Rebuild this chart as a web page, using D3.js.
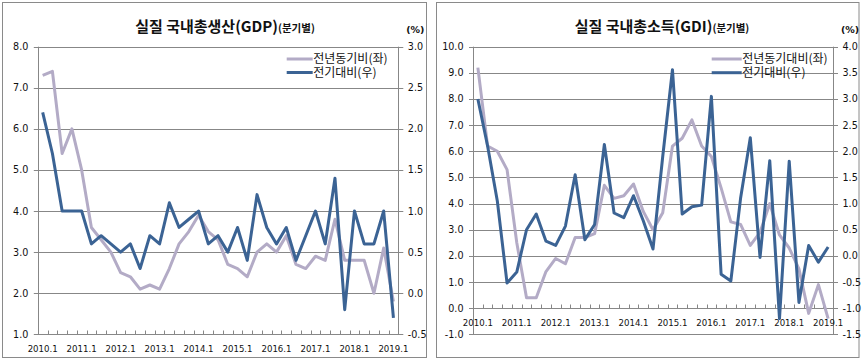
<!DOCTYPE html>
<html><head><meta charset="utf-8">
<script src="https://cdn.jsdelivr.net/npm/d3@7"></script>
<style>body{margin:0;background:#fff}svg{display:block}</style>
</head><body>
<svg id="c" width="868" height="360"></svg>
<script>
const categories = ["2010.1","2010.2","2010.3","2010.4","2011.1","2011.2","2011.3","2011.4",
  "2012.1","2012.2","2012.3","2012.4","2013.1","2013.2","2013.3","2013.4",
  "2014.1","2014.2","2014.3","2014.4","2015.1","2015.2","2015.3","2015.4",
  "2016.1","2016.2","2016.3","2016.4","2017.1","2017.2","2017.3","2017.4",
  "2018.1","2018.2","2018.3","2018.4","2019.1"];
const tickLabels = ["2010.1","2011.1","2012.1","2013.1","2014.1","2015.1","2016.1","2017.1","2018.1","2019.1"];
const seriesNames = ["전년동기비(좌)", "전기대비(우)"];
const gdiSeriesNames = ["전년동기대비(좌)", "전기대비(우)"];

// 실질 GDP
const gdpYoY = [7.3,7.4,5.4,6.0,5.0,3.6,3.3,3.0,2.5,2.4,2.1,2.2,2.1,2.6,3.2,3.5,3.9,3.5,3.3,2.7,
  2.6,2.4,3.0,3.2,3.0,3.4,2.7,2.6,2.9,2.8,3.8,2.8,2.8,2.8,2.0,3.1,1.8];
const gdpQoQ = [2.2,1.7,1.0,1.0,1.0,0.6,0.7,0.6,0.5,0.6,0.3,0.7,0.6,1.1,0.8,0.9,1.0,0.6,0.7,0.5,
  0.8,0.4,1.2,0.8,0.6,0.8,0.4,0.7,1.0,0.6,1.4,-0.2,1.0,0.6,0.6,1.0,-0.3];
const gdpLeftTicks = [1,2,3,4,5,6,7,8];
const gdpRightTicks = [-0.5,0,0.5,1,1.5,2,2.5,3];

// 실질 GDI
const gdiYoY = [9.2,6.2,6.0,5.3,2.5,0.4,0.4,1.4,1.9,1.7,2.7,2.7,2.85,4.7,4.2,4.3,4.75,3.7,3.0,3.65,
  6.2,6.5,7.2,6.2,5.8,4.6,3.3,3.2,2.4,2.9,4.0,2.8,2.3,1.5,-0.2,0.9,-0.4];
const gdiQoQ = [3.0,2.1,1.05,-0.52,-0.31,0.5,0.8,0.28,0.2,0.57,1.55,0.31,0.6,2.13,0.82,0.73,1.15,0.67,0.13,1.9,
  3.56,0.8,0.94,0.97,3.05,-0.35,-0.48,1.1,2.26,-0.03,1.82,-1.2,1.81,-0.89,0.2,-0.12,0.17];
const gdiLeftTicks = [-1,0,1,2,3,4,5,6,7,8,9,10];
const gdiRightTicks = [-1.5,-1,-0.5,0,0.5,1,1.5,2,2.5,3,3.5,4];

const GRAY = "#b3abc6", BLUE = "#3b6394", GRID = "#878787";
const NUMFONT = "'DejaVu Sans', Verdana, sans-serif";
const KRFONT = "'Noto Sans CJK KR', sans-serif";

const svg = d3.select("#c");

function drawChart(cfg) {
  const g = svg.append("g");
  const x = d3.scaleBand().domain(categories).range([cfg.l, cfg.r]);
  const xc = c => x(c) + x.bandwidth() / 2;
  const yL = d3.scaleLinear().domain(d3.extent(cfg.leftTicks)).range([cfg.b, cfg.t]);
  const yR = d3.scaleLinear().domain(d3.extent(cfg.rightTicks)).range([cfg.b, cfg.t]);

  // outer box
  g.append("rect").attr("x", cfg.box[0]).attr("y", cfg.box[1])
    .attr("width", cfg.box[2]).attr("height", cfg.box[3])
    .attr("fill", "#fff").attr("stroke", "#8a8a8a").attr("stroke-width", 1);

  // gridlines (with outward ticks both sides)
  g.selectAll(".grid").data(cfg.leftTicks).join("line")
    .attr("x1", cfg.l - 4).attr("x2", cfg.r + 5)
    .attr("y1", d => Math.round(yL(d)) + 0.5).attr("y2", d => Math.round(yL(d)) + 0.5)
    .attr("stroke", GRID).attr("stroke-width", 1);

  // vertical axes
  [cfg.l, cfg.r].forEach(xx => {
    g.append("line").attr("x1", Math.round(xx) + 0.5).attr("x2", Math.round(xx) + 0.5)
      .attr("y1", cfg.t).attr("y2", cfg.b + 0.5).attr("stroke", GRID);
  });

  // x axis minor ticks (category boundaries), pointing up
  const axY = Math.round(yL(cfg.xAxisAt)) + 0.5;
  const bounds = categories.map(c => x(c)).concat([cfg.r]);
  g.selectAll(".xt").data(bounds).join("line")
    .attr("x1", d => Math.round(d) + 0.5).attr("x2", d => Math.round(d) + 0.5)
    .attr("y1", axY - 4).attr("y2", axY).attr("stroke", GRID);

  // x labels
  g.selectAll(".xl").data(tickLabels).join("text")
    .attr("x", d => xc(d)).attr("y", axY + cfg.xLabelDy)
    .attr("text-anchor", "middle").attr("font-family", NUMFONT).attr("font-size", 8.6)
    .attr("fill", "#111").text(d => d);

  // y labels
  g.selectAll(".yl").data(cfg.leftTicks).join("text")
    .attr("x", cfg.l - 9.5).attr("y", d => yL(d) + 3.5)
    .attr("text-anchor", "end").attr("font-family", NUMFONT).attr("font-size", 9.6)
    .attr("fill", "#111").text(d => d.toFixed(1));
  g.selectAll(".yr").data(cfg.rightTicks).join("text")
    .attr("x", cfg.r + 9.5).attr("y", d => yR(d) + 3.5)
    .attr("text-anchor", "start").attr("font-family", NUMFONT).attr("font-size", 9.6)
    .attr("fill", "#111").text(d => d.toFixed(1));

  // lines
  const lineL = d3.line().x((d, i) => xc(categories[i])).y(d => yL(d));
  const lineR = d3.line().x((d, i) => xc(categories[i])).y(d => yR(d));
  g.append("path").attr("d", lineL(cfg.yoy)).attr("fill", "none")
    .attr("stroke", GRAY).attr("stroke-width", 3).attr("stroke-linejoin", "round");
  g.append("path").attr("d", lineR(cfg.qoq)).attr("fill", "none")
    .attr("stroke", BLUE).attr("stroke-width", 3).attr("stroke-linejoin", "round");

  // legend
  const lg = cfg.legend;
  [[GRAY, cfg.names[0], lg.y1], [BLUE, cfg.names[1], lg.y2]].forEach(([col, name, yy]) => {
    g.append("line").attr("x1", lg.x1).attr("x2", lg.x2).attr("y1", yy).attr("y2", yy)
      .attr("stroke", col).attr("stroke-width", 3);
    g.append("text").attr("x", lg.x2 + 0.5).attr("y", yy + 4.3)
      .attr("font-family", KRFONT).attr("font-size", 12).attr("fill", "#111").text(name);
  });

  // title
  const t = g.append("text").attr("x", cfg.titleX).attr("y", 32)
    .attr("text-anchor", "middle").attr("font-family", KRFONT)
    .attr("font-weight", 700).attr("font-size", 15).attr("fill", "#111");
  t.append("tspan").text(cfg.title);
  t.append("tspan").attr("font-size", 10.5).text("(분기별)");

  // unit
  g.append("text").attr("x", cfg.r + 17).attr("y", 33).attr("text-anchor", "middle")
    .attr("font-family", NUMFONT).attr("font-weight", 700).attr("font-size", 9.5)
    .attr("fill", "#111").text("(%)");
}

drawChart({
  box: [2.5, 2.5, 424, 355], l: 37.8, r: 398.3, t: 46.7, b: 334.3,
  leftTicks: gdpLeftTicks, rightTicks: gdpRightTicks, xAxisAt: 1, xLabelDy: 17,
  yoy: gdpYoY, qoq: gdpQoQ, names: seriesNames,
  legend: {x1: 286.7, x2: 312.7, y1: 59, y2: 72.5},
  title: "실질 국내총생산(GDP)", titleX: 225
});
drawChart({
  box: [436.5, 2.5, 422.5, 355], l: 473, r: 833, t: 46.7, b: 334.3,
  leftTicks: gdiLeftTicks, rightTicks: gdiRightTicks, xAxisAt: 0, xLabelDy: 17,
  yoy: gdiYoY, qoq: gdiQoQ, names: gdiSeriesNames,
  legend: {x1: 711.7, x2: 741.7, y1: 59, y2: 72.7},
  title: "실질 국내총소득(GDI)", titleX: 662
});
</script>
</body></html>
